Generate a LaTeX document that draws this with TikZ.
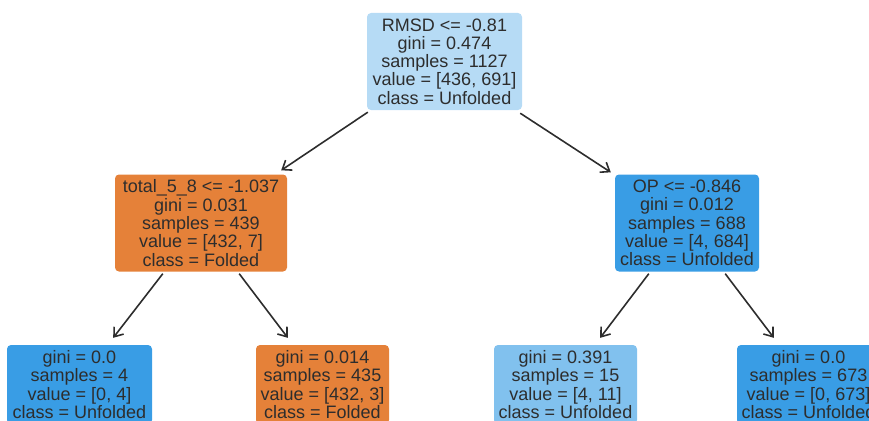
\documentclass[tikz,border=0pt]{standalone}
\usepackage{fontspec}
\setmainfont{Liberation Sans}
\usetikzlibrary{arrows.meta}
\definecolor{unfold}{RGB}{57,157,229}
\definecolor{fold}{RGB}{229,129,57}
\definecolor{rootblue}{RGB}{182,219,245}
\definecolor{midblue}{RGB}{129,193,238}
\definecolor{ink}{RGB}{45,45,45}
\tikzset{
  treenode/.style={rounded corners=4pt,inner sep=0pt,align=center,text=ink,
    font=\fontsize{18}{18.3}\selectfont,minimum height=97pt},
  leafnode/.style={treenode,minimum height=79pt},
  split/.style={draw=ink,line width=1.6pt,-{Straight Barb[length=8pt,width=12pt]}}
}

\begin{document}
\begin{tikzpicture}[x=1pt,y=-1pt]
  \useasboundingbox (0,0) rectangle (869,420);
  \clip (0,0) rectangle (869,420);
  % inner splits
  \node[treenode,fill=rootblue,minimum width=155pt] (root) at (444.5,61.5)
    {RMSD <= -0.81\\gini = 0.474\\samples = 1127\\value = [436, 691]\\class = Unfolded};
  \node[treenode,fill=fold,minimum width=172pt] (lmid) at (201,223)
    {total\_5\_8 <= -1.037\\gini = 0.031\\samples = 439\\value = [432, 7]\\class = Folded};
  \node[treenode,fill=unfold,minimum width=144pt] (rmid) at (687,223)
    {OP <= -0.846\\gini = 0.012\\samples = 688\\value = [4, 684]\\class = Unfolded};
  % leaves
  \node[leafnode,fill=unfold,minimum width=145pt] (leafa) at (79.5,384.5)
    {gini = 0.0\\samples = 4\\value = [0, 4]\\class = Unfolded};
  \node[leafnode,fill=fold,minimum width=133pt] (leafb) at (322.5,384.5)
    {gini = 0.014\\samples = 435\\value = [432, 3]\\class = Folded};
  \node[leafnode,fill=midblue,minimum width=143pt] (leafc) at (565.5,384.5)
    {gini = 0.391\\samples = 15\\value = [4, 11]\\class = Unfolded};
  \node[leafnode,fill=unfold,minimum width=143pt] (leafd) at (808.5,384.5)
    {gini = 0.0\\samples = 673\\value = [0, 673]\\class = Unfolded};
  % edges
  \draw[split] ([xshift=1pt,yshift=-2pt]root.south west) -- ([xshift=-6pt,yshift=4pt]lmid.north east);
  \draw[split] ([xshift=-2pt,yshift=-3pt]root.south east) -- ([xshift=-4pt,yshift=2pt]rmid.north west);
  \draw[split] ([xshift=48pt,yshift=-2pt]lmid.south west) -- ([xshift=-39pt,yshift=7pt]leafa.north east);
  \draw[split] ([xshift=-48pt,yshift=-2pt]lmid.south east) -- ([xshift=32pt,yshift=7pt]leafb.north west);
  \draw[split] ([xshift=34pt,yshift=-2pt]rmid.south west) -- ([xshift=-37pt,yshift=7pt]leafc.north east);
  \draw[split] ([xshift=-34pt,yshift=-2pt]rmid.south east) -- ([xshift=37pt,yshift=7pt]leafd.north west);
\end{tikzpicture}
\end{document}
